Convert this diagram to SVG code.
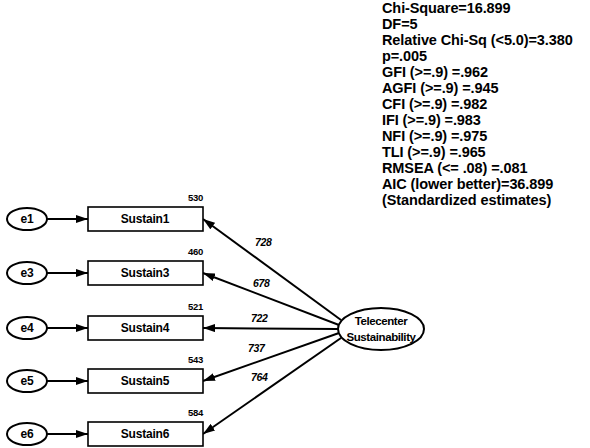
<svg xmlns="http://www.w3.org/2000/svg" width="590" height="448" viewBox="0 0 590 448">
<style>
text{font-family:"Liberation Sans",Arial,sans-serif;font-weight:bold;fill:#000}
.fit{font-size:14.5px;letter-spacing:-0.1px}
.lbl{font-size:12px;text-anchor:middle;letter-spacing:-0.2px}
.num{font-size:9.5px;letter-spacing:-0.3px}
.pl{font-size:10.5px;font-style:italic}
.lat{font-size:11.5px;letter-spacing:-0.4px}
.box{fill:#fff;stroke:#000;stroke-width:1.6}
.ell{fill:#fff;stroke:#000;stroke-width:2}
.con line{stroke:#000;stroke-width:2;marker-end:url(#ah)}
</style>
<defs>
<marker id="ah" viewBox="0 0 12 8" refX="12" refY="4" markerWidth="12" markerHeight="8" markerUnits="userSpaceOnUse" orient="auto"><path d="M0,0 L12,4 L0,8 z" fill="#000"/></marker>
</defs>
<rect width="590" height="448" fill="#fff"/>
<g id="fit-stats" class="fit">
<text x="382" y="13">Chi-Square=16.899</text>
<text x="382" y="29">DF=5</text>
<text x="382" y="45">Relative Chi-Sq (&lt;5.0)=3.380</text>
<text x="382" y="61">p=.005</text>
<text x="382" y="77">GFI (&gt;=.9) =.962</text>
<text x="382" y="93">AGFI (&gt;=.9) =.945</text>
<text x="382" y="109">CFI (&gt;=.9) =.982</text>
<text x="382" y="125">IFI (&gt;=.9) =.983</text>
<text x="382" y="141">NFI (&gt;=.9) =.975</text>
<text x="382" y="157">TLI (&gt;=.9) =.965</text>
<text x="382" y="173">RMSEA (&lt;= .08) =.081</text>
<text x="382" y="189">AIC (lower better)=36.899</text>
<text x="382" y="205">(Standardized estimates)</text>
</g>
<g id="connectors" class="con">
<line x1="47" y1="219" x2="88" y2="219"/>
<line x1="47" y1="273" x2="88" y2="273"/>
<line x1="47" y1="328" x2="88" y2="328"/>
<line x1="47" y1="381" x2="88" y2="381"/>
<line x1="47" y1="434" x2="88" y2="434"/>
<line x1="341" y1="320" x2="203" y2="219"/>
<line x1="339" y1="325" x2="203" y2="273"/>
<line x1="338" y1="329" x2="203" y2="328"/>
<line x1="339" y1="333" x2="203" y2="381"/>
<line x1="341" y1="338" x2="203" y2="434"/>
</g>
<g id="path-labels" class="num pl">
<text x="255" y="246">728</text>
<text x="253" y="287">678</text>
<text x="251" y="322">722</text>
<text x="248" y="352">737</text>
<text x="251" y="381">764</text>
</g>
<g id="e1"><ellipse class="ell" cx="27" cy="219" rx="20" ry="11"/><text class="lbl" x="27" y="223">e1</text></g>
<g id="e3"><ellipse class="ell" cx="27" cy="273" rx="20" ry="11"/><text class="lbl" x="27" y="277">e3</text></g>
<g id="e4"><ellipse class="ell" cx="27" cy="328" rx="20" ry="11"/><text class="lbl" x="27" y="332">e4</text></g>
<g id="e5"><ellipse class="ell" cx="27" cy="381" rx="20" ry="11"/><text class="lbl" x="27" y="385">e5</text></g>
<g id="e6"><ellipse class="ell" cx="27" cy="434" rx="20" ry="11"/><text class="lbl" x="27" y="438">e6</text></g>
<g id="Sustain1"><rect class="box" x="88" y="207" width="115" height="24"/><text class="lbl" x="145" y="223">Sustain1</text><text class="num" x="188" y="201">530</text></g>
<g id="Sustain3"><rect class="box" x="88" y="261" width="115" height="24"/><text class="lbl" x="145" y="277">Sustain3</text><text class="num" x="188" y="255">460</text></g>
<g id="Sustain4"><rect class="box" x="88" y="316" width="115" height="24"/><text class="lbl" x="145" y="332">Sustain4</text><text class="num" x="188" y="310">521</text></g>
<g id="Sustain5"><rect class="box" x="88" y="369" width="115" height="24"/><text class="lbl" x="145" y="385">Sustain5</text><text class="num" x="188" y="363">543</text></g>
<g id="Sustain6"><rect class="box" x="88" y="422" width="115" height="24"/><text class="lbl" x="145" y="438">Sustain6</text><text class="num" x="188" y="416">584</text></g>
<g id="TelecenterSustainability"><ellipse class="ell" cx="381" cy="329" rx="43" ry="21"/><text class="lbl lat" x="381" y="325">Telecenter</text><text class="lbl lat" x="381" y="341">Sustainability</text></g>
</svg>
